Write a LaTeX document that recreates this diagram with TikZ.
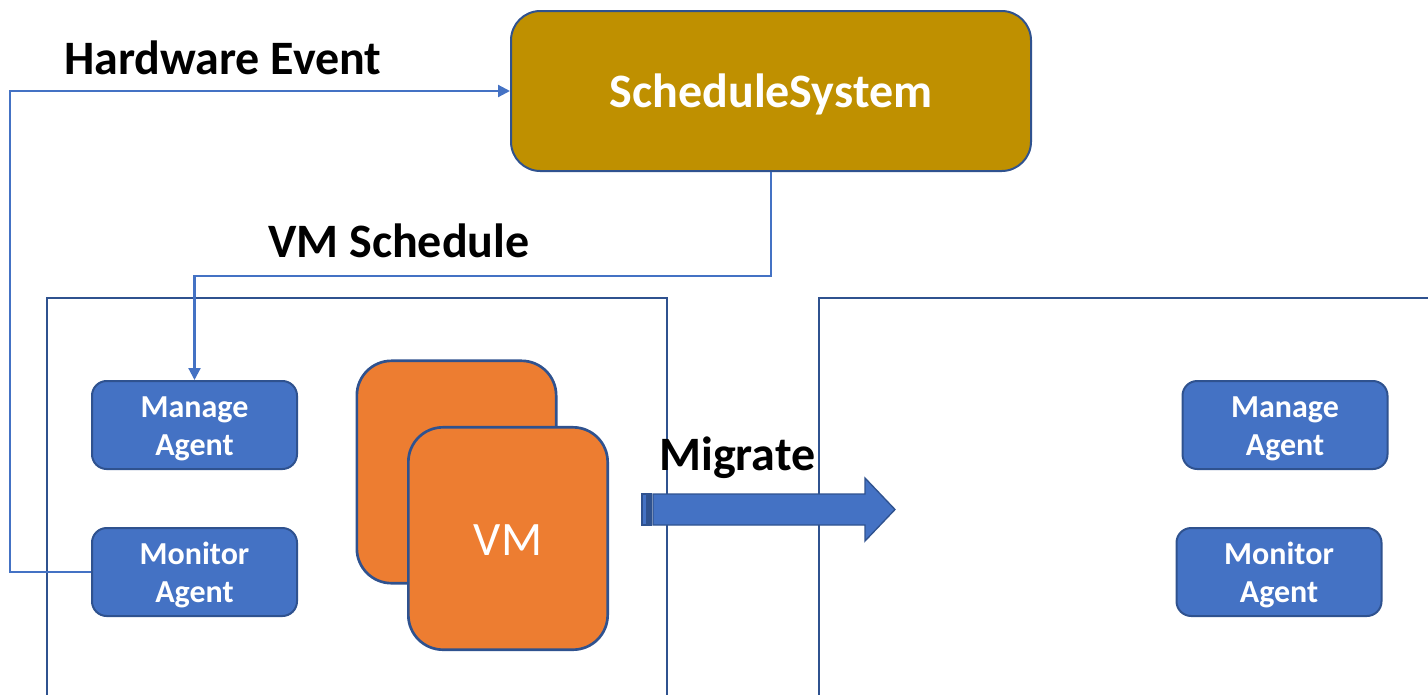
\documentclass[tikz,border=0pt]{standalone}
\usepackage{fontspec}
\setmainfont{Carlito}
\usetikzlibrary{arrows.meta}
\definecolor{schedgold}{HTML}{BF9000}
\definecolor{edgeblue}{HTML}{2F528F}
\definecolor{agentblue}{HTML}{4472C4}
\definecolor{vmorange}{HTML}{ED7D31}
% lower a piece of text without changing the box TikZ centres
\newcommand{\lowered}[2]{\raisebox{-#1}[\height][\depth]{#2}}
\newcommand{\twolines}[2]{\lowered{3pt}{\begin{tabular}{@{}c@{}}#1\\#2\end{tabular}}}
\tikzset{
  agent/.style={draw=edgeblue, fill=agentblue, line width=1.5pt, rounded corners=11pt,
    minimum width=153.75pt, minimum height=66pt, inner sep=0pt,
    text=white, font=\bfseries\fontsize{24}{28.5}\selectfont},
  vmbox/.style={draw=edgeblue, fill=vmorange, line width=2pt, rounded corners=26pt,
    minimum width=149.5pt, minimum height=166.8pt, inner sep=0pt,
    text=white, font=\fontsize{36}{40}\selectfont},
  schedbox/.style={draw=edgeblue, fill=schedgold, line width=1.5pt, rounded corners=22pt,
    minimum width=390pt, minimum height=120pt, inner sep=0pt,
    text=white, font=\bfseries\fontsize{36}{40}\selectfont},
  lbl/.style={inner sep=0pt, font=\bfseries\fontsize{36}{40}\selectfont},
  link/.style={draw=agentblue, line width=1.6pt, -{Triangle[length=9pt,width=9pt]}},
  host/.style={draw=edgeblue, line width=1.5pt},
  bigarrow/.style={draw=edgeblue, fill=agentblue, line width=1pt}
}
\begin{document}
\begin{tikzpicture}[x=0.75pt,y=-0.75pt]
\useasboundingbox (0,0) rectangle (1428,694);

% host machines, open at the bottom and right
\draw[host] (47,700) -- (47,298) -- (667,298) -- (667,700);
\draw[host] (819,700) -- (819,298) -- (1440,298);

% scheduler
\node[schedbox] (sched) at (771,91) {\lowered{2.25pt}{ScheduleSystem}};

% agents
\node[agent] (manL) at (194.5,425) {\twolines{Manage}{Agent}};
\node[agent] (monL) at (194.5,572) {\twolines{Monitor}{Agent}};
\node[agent] (manR) at (1285,425) {\twolines{Manage}{Agent}};
\node[agent] (monR) at (1279,572) {\twolines{Monitor}{Agent}};

% virtual machines
\node[vmbox] (vmback) at (456.5,472) {};
\node[vmbox] (vm) at (508,538.5) {\lowered{1.5pt}{VM}};

% labels
\node[lbl, anchor=base west] (hwlbl) at (64,74) {Hardware Event};
\node[lbl, anchor=base west] (vmslbl) at (268,257) {VM Schedule};
\node[lbl, anchor=base west] (miglbl) at (659,470) {Migrate};

% connectors
\draw[link] (monL.west) -- ++(-81,0) |- (sched.west);
\draw[link] (sched.south) -- ++(0,104) -| (manL.north);

% striped migrate arrow
\draw[bigarrow] (642,494) rectangle (647,525);
\draw[bigarrow] (649,494) rectangle (651,525);
\draw[bigarrow] (653,494) -- (865,494) -- (865,478) -- (895,509.5)
  -- (865,541) -- (865,525) -- (653,525) -- cycle;
\end{tikzpicture}
\end{document}
